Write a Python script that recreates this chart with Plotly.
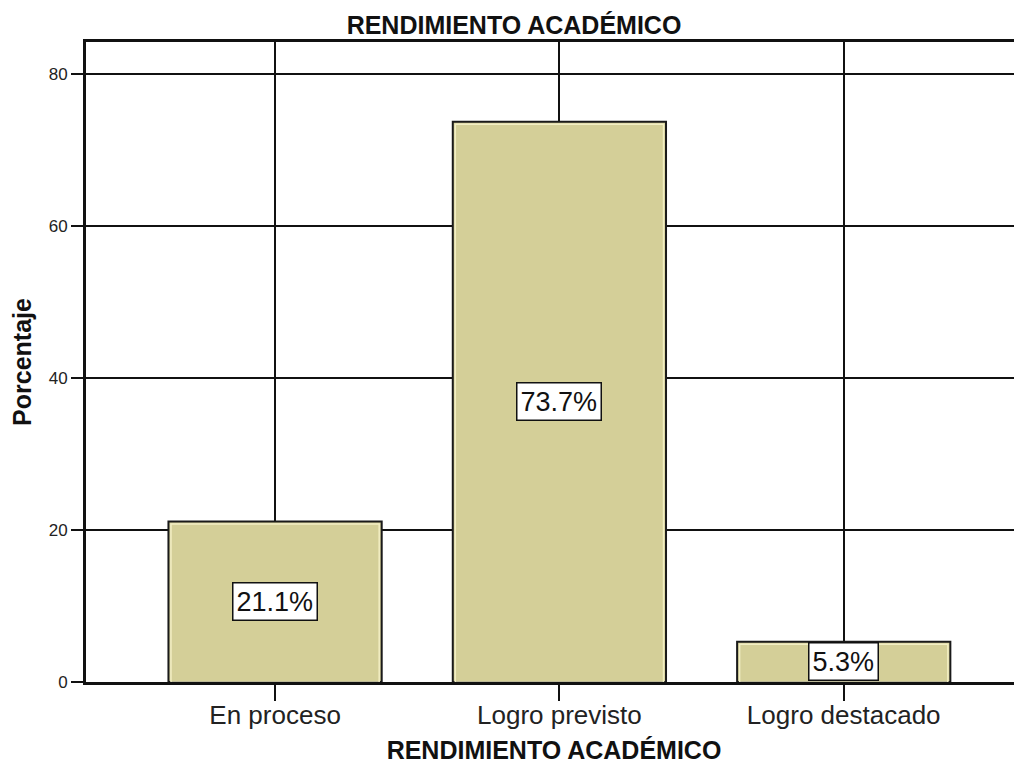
import plotly.graph_objects as go

# --- datos del gráfico ---
categorias = ["En proceso", "Logro previsto", "Logro destacado"]
porcentajes = [21.1, 73.7, 5.3]
etiquetas = ["21.1%", "73.7%", "5.3%"]
y_ticks = [0, 20, 40, 60, 80]

FONT = "Liberation Sans, Arial, sans-serif"
BAR_FILL = "#d4cf98"
BAR_EDGE = "#1a1a1a"
BAR_GLOW = "#f2eec4"

# la página añade 8 px de margen al cuerpo, así que la figura es algo menor
W, H = 1014, 756
Y_MAX = 84.2
px_per_unit = (H - 34 - 82) / Y_MAX

x_pos = list(range(len(categorias)))

fig = go.Figure()

fig.add_trace(go.Bar(
    x=x_pos,
    y=porcentajes,
    width=0.75,
    marker=dict(color=BAR_FILL, line=dict(color=BAR_EDGE, width=2)),
    hoverinfo="skip",
    showlegend=False,
))

# brillo claro justo dentro del borde (como en el estilo SPSS)
fig.add_trace(go.Bar(
    x=x_pos,
    y=[v - 2.5 / px_per_unit for v in porcentajes],
    width=0.75 - 5 / 284,
    marker=dict(color="rgba(0,0,0,0)", line=dict(color=BAR_GLOW, width=1.5)),
    hoverinfo="skip",
    showlegend=False,
))

# etiquetas en caja blanca, centradas a media altura de cada barra
for i, (val, txt) in enumerate(zip(porcentajes, etiquetas)):
    fig.add_annotation(
        x=i, y=val / 2, xref="x", yref="y",
        text=txt, showarrow=False,
        font=dict(family=FONT, size=27, color="#111111"),
        bgcolor="white", bordercolor="#111111", borderwidth=1.5, borderpad=3,
    )

fig.update_layout(
    width=W, height=H, autosize=False,
    margin=dict(l=78, r=0, t=34, b=82),
    paper_bgcolor="white", plot_bgcolor="white",
    font=dict(family=FONT, color="#111111"),
    barmode="overlay",
    title=dict(
        text="<b>RENDIMIENTO ACADÉMICO</b>",
        x=506 / W, xanchor="center", xref="container",
        y=1 - 17 / H, yanchor="middle", yref="container",
        font=dict(size=25, color="#111111"),
    ),
)

fig.update_xaxes(
    range=[-0.665, 2.627],
    tickvals=x_pos,
    ticktext=categorias,
    tickfont=dict(size=26, color="#222222"),
    ticks="outside", ticklen=16, tickwidth=2, tickcolor="#111111",
    ticklabelstandoff=-8,
    showgrid=True, gridcolor="#111111", gridwidth=2,
    showline=True, linecolor="#111111", linewidth=3, mirror=True,
    zeroline=False,
    title=dict(text="<b>RENDIMIENTO ACADÉMICO</b>", font=dict(size=25, color="#111111"), standoff=16),
)

fig.update_yaxes(
    range=[0, Y_MAX],
    tickvals=y_ticks,
    tickfont=dict(size=17, color="#222222"),
    ticks="outside", ticklen=12, tickwidth=2, tickcolor="#111111",
    showgrid=True, gridcolor="#111111", gridwidth=2,
    showline=True, linecolor="#111111", linewidth=3,
    zeroline=False,
    title=dict(text="<b>Porcentaje</b>", font=dict(size=25, color="#111111"), standoff=14),
)

fig.write_html("out.html")
